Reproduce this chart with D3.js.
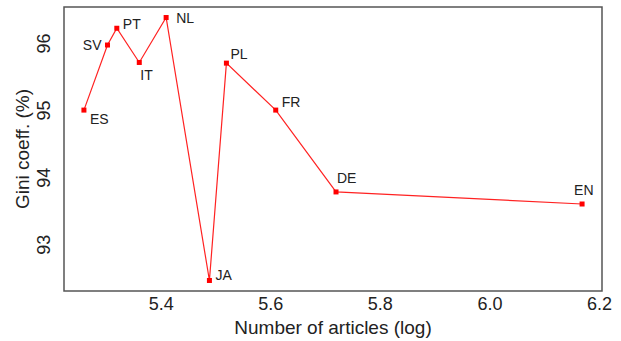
<!DOCTYPE html>
<html>
<head>
<meta charset="utf-8">
<script src="https://cdn.jsdelivr.net/npm/d3@7"></script>
<style>
  html, body { margin: 0; padding: 0; background: #fff; }
  svg { display: block; font-family: "Liberation Sans", Arial, sans-serif; }
</style>
</head>
<body>
<svg id="chart" width="621" height="341"></svg>
<script>
// Data
const languages = ["ES", "SV", "PT", "IT", "NL", "JA", "PL", "FR", "DE", "EN"];
const logArticles = [5.260, 5.303, 5.320, 5.361, 5.410, 5.489, 5.520, 5.610, 5.720, 6.169];
const giniCoeff   = [95.00, 95.97, 96.22, 95.71, 96.38, 92.46, 95.70, 95.00, 93.78, 93.60];
// label placement (R-style pos: 1 below, 2 left, 3 above, 4 right)
const labelPos    = [1, 2, 4, 1, 4, 4, 3, 3, 3, 3];
const xTicks = [5.4, 5.6, 5.8, 6.0, 6.2];
const yTicks = [93, 94, 95, 96];

const W = 621, H = 341;
const m = { left: 64, right: 19, top: 7, bottom: 50 };
const svg = d3.select("#chart");

// R-style 4% axis extension
const ext = (arr) => { const [a, b] = d3.extent(arr); const r = (b - a) * 0.04; return [a - r, b + r]; };
const x = d3.scaleLinear().domain(ext(logArticles)).range([m.left, W - m.right]);
const y = d3.scaleLinear().domain(ext(giniCoeff)).range([H - m.bottom, m.top]);

const data = languages.map((l, i) => ({ l, x: logArticles[i], y: giniCoeff[i], p: labelPos[i] }));

// frame
svg.append("rect")
  .attr("x", m.left).attr("y", m.top)
  .attr("width", W - m.left - m.right).attr("height", H - m.top - m.bottom)
  .attr("fill", "none").attr("stroke", "#555").attr("stroke-width", 1.5);

// x axis (labels only)
const xAxis = d3.axisBottom(x).tickValues(xTicks).tickFormat(d3.format(".1f")).tickSize(0).tickPadding(0);
const gx = svg.append("g").attr("transform", `translate(0,${H - m.bottom})`).call(xAxis);
gx.select(".domain").remove();
gx.selectAll("text").attr("font-size", 18).attr("fill", "#222").attr("dy", "1.05em")
  .attr("font-family", "Liberation Sans, Arial, sans-serif");

// y axis (labels rotated)
const yAxis = d3.axisLeft(y).tickValues(yTicks).tickFormat(d3.format("d")).tickSize(0).tickPadding(0);
const gy = svg.append("g").attr("transform", `translate(${m.left},0)`).call(yAxis);
gy.select(".domain").remove();
gy.selectAll(".tick text")
  .attr("x", null).attr("dy", null)
  .attr("text-anchor", "middle")
  .attr("font-size", 18).attr("fill", "#222")
  .attr("font-family", "Liberation Sans, Arial, sans-serif")
  .attr("transform", "translate(-20,0) rotate(-90)")
  .attr("dy", "0.36em");

// axis titles
svg.append("text").attr("x", (m.left + W - m.right) / 2).attr("y", H - 7)
  .attr("text-anchor", "middle").attr("font-size", 19).attr("fill", "#222")
  .text("Number of articles (log)");
svg.append("text")
  .attr("transform", `translate(29,${(m.top + H - m.bottom) / 2}) rotate(-90)`)
  .attr("text-anchor", "middle").attr("font-size", 19).attr("fill", "#222")
  .text("Gini coeff. (%)");

// line
const line = d3.line().x(d => x(d.x)).y(d => y(d.y));
svg.append("path").datum(data).attr("d", line)
  .attr("fill", "none").attr("stroke", "#f22").attr("stroke-width", 1.2);

// points
svg.selectAll("rect.pt").data(data).enter().append("rect").attr("class", "pt")
  .attr("x", d => x(d.x) - 2.5).attr("y", d => y(d.y) - 2.5)
  .attr("width", 5).attr("height", 5).attr("fill", "#f00");

// labels
const off = {
  1: { dx: 3, dy: 15, a: "start" },
  2: { dx: -6, dy: 5, a: "end" },
  3: { dx: 2, dy: -9, a: "start" },
  4: { dx: 7, dy: 0, a: "start" }
};
const special = { ES: [6, 14], IT: [1, 18], PT: [6, 1], NL: [10, 5], JA: [6, 0], PL: [4, -4], FR: [6, -3], DE: [1, -9], EN: [-8, -9] };
svg.selectAll("text.lab").data(data).enter().append("text").attr("class", "lab")
  .attr("x", d => x(d.x) + (special[d.l] ? special[d.l][0] : off[d.p].dx))
  .attr("y", d => y(d.y) + (special[d.l] ? special[d.l][1] : off[d.p].dy))
  .attr("text-anchor", d => off[d.p].a)
  .attr("font-size", 14).attr("fill", "#222")
  .text(d => d.l);
</script>
</body>
</html>
